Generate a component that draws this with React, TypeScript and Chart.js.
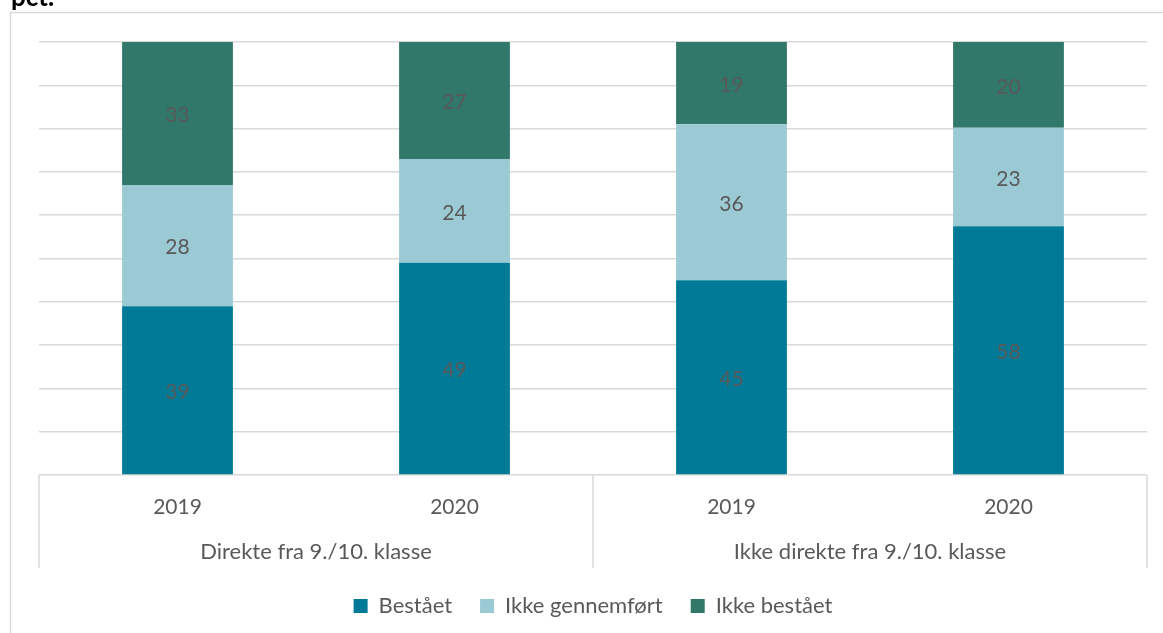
import React, { useEffect, useRef } from "react";
import { Chart, registerables } from "chart.js";

Chart.register(...registerables);

const categories = ["2019", "2020", "2019", "2020"];
const groups = ["Direkte fra 9./10. klasse", "Ikke direkte fra 9./10. klasse"];
const seriesNames = ["Bestået", "Ikke gennemført", "Ikke bestået"];
const bestaaet = [39, 49, 45, 58];
const ikkeGennemfoert = [28, 24, 36, 23];
const ikkeBestaaet = [33, 27, 19, 20];
const seriesColors = ["#007A96", "#9BCAD5", "#31786B"];
const yTicks = [0, 10, 20, 30, 40, 50, 60, 70, 80, 90, 100];

const rawSeries = [bestaaet, ikkeGennemfoert, ikkeBestaaet];
const totals = categories.map((_, i) => rawSeries.reduce((s, arr) => s + arr[i], 0));
const pctSeries = rawSeries.map((arr) => arr.map((v, i) => (v / totals[i]) * 100));

const FONT = "Lato, 'Open Sans', sans-serif";
const TEXT = "#595959";

const decorPlugin = {
  id: "decor",
  beforeDraw(chart: any) {
    const ctx = chart.ctx;
    ctx.save();
    ctx.fillStyle = "#ffffff";
    ctx.fillRect(0, 0, chart.width, chart.height);
    ctx.strokeStyle = "#d9d9d9";
    ctx.lineWidth = 1.5;
    ctx.strokeRect(10.5, 12.5, 1300, 800);
    ctx.fillStyle = "#000000";
    ctx.font = `bold 26px ${FONT}`;
    ctx.textAlign = "left";
    ctx.textBaseline = "alphabetic";
    ctx.fillText("pct.", 11, 6);
    ctx.restore();
  },
  afterDatasetsDraw(chart: any) {
    const ctx = chart.ctx;
    ctx.save();
    ctx.font = `21px ${FONT}`;
    ctx.fillStyle = TEXT;
    ctx.textAlign = "center";
    ctx.textBaseline = "middle";
    chart.data.datasets.forEach((ds: any, di: number) => {
      const meta = chart.getDatasetMeta(di);
      meta.data.forEach((el: any, i: number) => {
        const { x, y, base } = el.getProps(["x", "y", "base"], true);
        ctx.fillText(String(rawSeries[di][i]), x, (y + base) / 2 + 2);
      });
    });
    ctx.restore();
  },
  afterDraw(chart: any) {
    const ctx = chart.ctx;
    const xs = chart.scales.x;
    const area = chart.chartArea;
    const bottom = area.bottom + 93;
    ctx.save();
    ctx.strokeStyle = "#d9d9d9";
    ctx.lineWidth = 1.5;
    const mid = (xs.getPixelForValue(1) + xs.getPixelForValue(2)) / 2;
    [area.left, mid, area.right].forEach((px: number) => {
      ctx.beginPath();
      ctx.moveTo(px, area.bottom);
      ctx.lineTo(px, bottom);
      ctx.stroke();
    });
    ctx.font = `22px ${FONT}`;
    ctx.fillStyle = TEXT;
    ctx.textAlign = "center";
    ctx.textBaseline = "middle";
    groups.forEach((g, gi) => {
      const c = (xs.getPixelForValue(gi * 2) + xs.getPixelForValue(gi * 2 + 1)) / 2;
      ctx.fillText(g, c, area.bottom + 77);
    });
    ctx.restore();
  },
};

export default function App() {
  const ref = useRef<HTMLCanvasElement>(null);
  useEffect(() => {
    if (!ref.current) return;
    const chart = new Chart(ref.current, {
      type: "bar",
      data: {
        labels: categories,
        datasets: seriesNames.map((name, i) => ({
          label: name,
          data: pctSeries[i],
          backgroundColor: seriesColors[i],
          borderWidth: 0,
          barPercentage: 0.4,
          categoryPercentage: 1,
        })),
      },
      options: {
        responsive: false,
        animation: false,
        devicePixelRatio: 1,
        layout: { padding: { top: 42, left: 39, right: 16, bottom: 6 } },
        font: { family: FONT },
        scales: {
          x: {
            stacked: true,
            grid: { display: false, drawTicks: false },
            border: { display: false },
            ticks: { color: TEXT, font: { family: FONT, size: 21 }, padding: 20 },
            afterFit: (s: any) => {
              s.height = 92;
            },
          },
          y: {
            stacked: true,
            min: 0,
            max: 100,
            afterBuildTicks: (s: any) => {
              s.ticks = yTicks.map((v) => ({ value: v }));
            },
            ticks: { display: false },
            grid: { color: "#d9d9d9", lineWidth: 1.5, drawTicks: false },
            border: { display: false },
            afterFit: (s: any) => {
              s.width = 0;
            },
          },
        },
        plugins: {
          legend: {
            position: "bottom",
            labels: {
              boxWidth: 14,
              boxHeight: 14,
              padding: 28,
              color: TEXT,
              font: { family: FONT, size: 22 },
            },
          },
          tooltip: { enabled: false },
        },
      } as any,
      plugins: [decorPlugin],
    });
    return () => chart.destroy();
  }, []);
  return (
    <div style={{ position: "absolute", left: 0, top: 0, width: 1163, height: 633 }}>
      <canvas ref={ref} width={1163} height={633} style={{ display: "block" }} />
    </div>
  );
}
